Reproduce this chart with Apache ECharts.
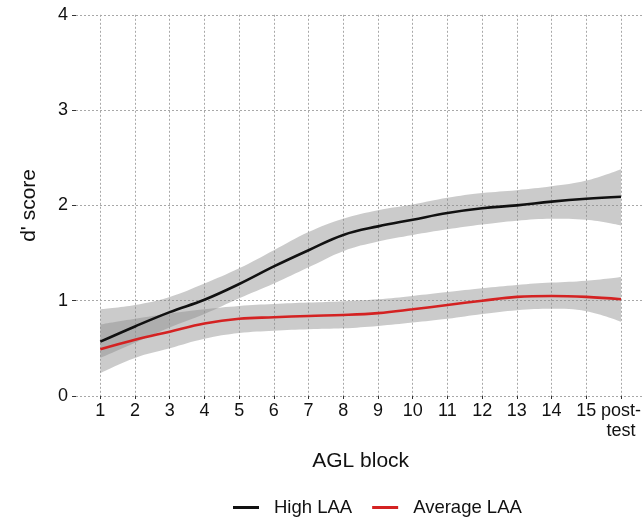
<!DOCTYPE html>
<html>
<head>
<meta charset="utf-8">
<script src="https://cdn.jsdelivr.net/npm/echarts@6/dist/echarts.min.js"></script>
<style>
  html, body { margin: 0; padding: 0; background: #fff; }
  #chart { width: 644px; height: 519px; }
</style>
</head>
<body>
<div id="chart"></div>
<script>
// AGL blocks 1..15 plus the post-test
const blockLabels = ['1', '2', '3', '4', '5', '6', '7', '8', '9', '10', '11', '12', '13', '14', '15', 'post-\ntest']

const highFit = [0.57, 0.73, 0.88, 1.01, 1.175, 1.36, 1.53, 1.69, 1.78, 1.85, 1.92, 1.97, 2.00, 2.04, 2.07, 2.09]
const highUpper = [0.91, 0.955, 1.04, 1.18, 1.34, 1.53, 1.72, 1.86, 1.95, 2.01, 2.08, 2.13, 2.16, 2.20, 2.26, 2.38]
const highLower = [0.40, 0.56, 0.72, 0.86, 1.025, 1.18, 1.35, 1.52, 1.62, 1.69, 1.75, 1.80, 1.84, 1.86, 1.85, 1.79]

const avgFit = [0.49, 0.59, 0.675, 0.76, 0.81, 0.826, 0.84, 0.85, 0.87, 0.91, 0.955, 1.00, 1.04, 1.05, 1.04, 1.015]
const avgUpper = [0.75, 0.81, 0.865, 0.91, 0.945, 0.965, 0.98, 0.995, 1.015, 1.05, 1.09, 1.13, 1.165, 1.19, 1.21, 1.25]
const avgLower = [0.24, 0.40, 0.50, 0.60, 0.66, 0.685, 0.70, 0.71, 0.735, 0.77, 0.81, 0.86, 0.90, 0.915, 0.89, 0.78]

const FONT = '"Liberation Sans", Arial, sans-serif'
const BAND = 'rgba(140, 140, 140, 0.45)'
const GRIDLINE = { show: true, lineStyle: { color: '#a8a8a8', type: [2, 2], width: 1 } }

function band(stack, lower, upper) {
  return [{
    type: 'line',
    xAxisIndex: 1,
    yAxisIndex: 1,
    stack: stack,
    data: lower,
    smooth: 0.4,
    symbol: 'none',
    lineStyle: { opacity: 0 },
    silent: true,
    z: 1
  }, {
    type: 'line',
    xAxisIndex: 1,
    yAxisIndex: 1,
    stack: stack,
    data: upper.map((u, i) => +(u - lower[i]).toFixed(3)),
    smooth: 0.4,
    symbol: 'none',
    lineStyle: { opacity: 0 },
    areaStyle: { color: BAND, opacity: 1 },
    silent: true,
    z: 1
  }]
}

function fitLine(name, values, color) {
  return {
    name: name,
    type: 'line',
    xAxisIndex: 1,
    yAxisIndex: 1,
    data: values,
    smooth: 0.4,
    symbol: 'none',
    color: color,
    lineStyle: { width: 2.6, color: color },
    z: 3
  }
}

const chart = echarts.init(document.getElementById('chart'))
chart.setOption({
  animation: false,
  backgroundColor: '#fff',
  grid: [
    // full panel: horizontal grid lines and the y axis
    { left: 76, top: 14.8, width: 570, height: 381.2 },
    // data area: block 1 .. post-test
    { left: 100.3, top: 14.8, width: 521.2, height: 381.2 }
  ],
  legend: {
    top: 493,
    left: 228,
    icon: 'rect',
    itemWidth: 26,
    itemHeight: 3,
    itemGap: 20,
    textStyle: { fontFamily: FONT, fontSize: 18.5, color: '#111', padding: [0, 0, 0, 10] },
    data: ['High LAA', 'Average LAA']
  },
  xAxis: [{
    gridIndex: 0,
    type: 'value',
    min: 0,
    max: 1,
    show: false
  }, {
    gridIndex: 1,
    type: 'category',
    boundaryGap: false,
    data: blockLabels,
    name: 'AGL block',
    nameLocation: 'middle',
    nameGap: 55,
    nameTextStyle: { fontFamily: FONT, fontSize: 21, color: '#111' },
    axisLine: { show: false },
    axisTick: { show: true, length: 3, interval: 0, lineStyle: { color: '#333' } },
    axisLabel: {
      interval: 0,
      margin: 5,
      fontFamily: FONT,
      fontSize: 18,
      lineHeight: 20,
      color: '#111'
    },
    splitLine: Object.assign({ interval: 0 }, GRIDLINE)
  }],
  yAxis: [{
    gridIndex: 0,
    type: 'value',
    min: 0,
    max: 4,
    interval: 1,
    name: "d' score",
    nameLocation: 'middle',
    nameGap: 36,
    nameTextStyle: { fontFamily: FONT, fontSize: 21, color: '#111' },
    axisLine: { show: false },
    axisTick: { show: true, length: 4, lineStyle: { color: '#333' } },
    axisLabel: { margin: 8, fontFamily: FONT, fontSize: 18, color: '#111' },
    splitLine: GRIDLINE
  }, {
    gridIndex: 1,
    type: 'value',
    min: 0,
    max: 4,
    show: false
  }],
  series: [
    ...band('highBand', highLower, highUpper),
    ...band('avgBand', avgLower, avgUpper),
    fitLine('High LAA', highFit, '#111'),
    fitLine('Average LAA', avgFit, '#d42222')
  ]
})
</script>
</body>
</html>
